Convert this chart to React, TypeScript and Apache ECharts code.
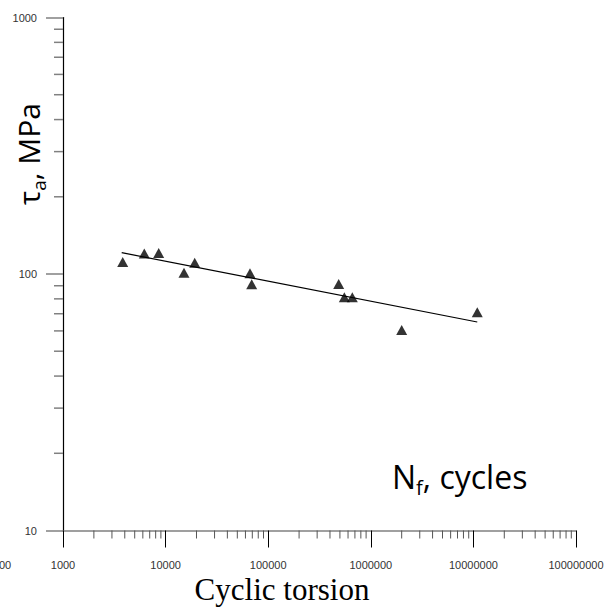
import React, { useEffect, useRef } from "react";
import * as echarts from "echarts";

// Fatigue data: number of cycles to failure vs. shear stress amplitude
const cycles = [3819, 6199, 8565, 15110, 19220, 66450, 69040, 486500, 552000, 660400, 2000000, 10910000];
const stress = [111.4, 120.2, 120.7, 101.2, 110.7, 100.6, 91.2, 91.4, 81.1, 81.1, 60.5, 70.9];

// Fitted S-N line (end points)
const fitCycles = [3733, 10910000];
const fitStress = [121.1, 65.0];

// Axis ranges
const xMin = 1000;
const xMax = 100000000;
const yMin = 10;
const yMax = 1000;

// Minor tick positions (2..9 within every decade)
const xDecades = [1000, 10000, 100000, 1000000, 10000000];
const yDecades = [10, 100];
const minorMult = [2, 3, 4, 5, 6, 7, 8, 9];

const xMinorTicks: number[] = [];
xDecades.forEach((d) => minorMult.forEach((m) => xMinorTicks.push(d * m)));
const yMinorTicks: number[] = [];
yDecades.forEach((d) => minorMult.forEach((m) => yMinorTicks.push(d * m)));

export default function App() {
  const ref = useRef<HTMLDivElement>(null);

  useEffect(() => {
    if (!ref.current) return;
    const chart = echarts.init(ref.current, null, { renderer: "svg" });

    const labelFont = {
      fontFamily: "Liberation Sans",
      fontSize: 11,
      color: "#333",
    };

    const option: any = {
      animation: false,
      backgroundColor: "#fff",
      grid: { left: 63, right: 35, top: 17.5, bottom: 77.5, containLabel: false },
      xAxis: {
        type: "log",
        logBase: 10,
        min: xMin,
        max: xMax,
        splitLine: { show: false },
        axisLine: { show: true, lineStyle: { color: "#808080", width: 1.5 } },
        axisTick: { show: true, inside: false, length: 17, lineStyle: { color: "#000", width: 1 } },
        axisLabel: {
          ...labelFont,
          margin: 29,
          formatter: (v: number) => String(Math.round(v)),
        },
      },
      yAxis: {
        type: "log",
        logBase: 10,
        min: yMin,
        max: yMax,
        splitLine: { show: false },
        axisLine: { show: true, lineStyle: { color: "#000", width: 1.2 } },
        axisTick: { show: true, inside: false, length: 17, lineStyle: { color: "#808080", width: 1.5 } },
        axisLabel: {
          ...labelFont,
          margin: 26,
          formatter: (v: number) => String(Math.round(v)),
        },
      },
      series: [
        {
          type: "custom",
          name: "xMinor",
          clip: false,
          silent: true,
          data: xMinorTicks.map((v) => [v, yMin]),
          renderItem: (params: any, api: any) => {
            const p = api.coord([api.value(0), api.value(1)]);
            return {
              type: "line",
              shape: { x1: p[0], y1: p[1], x2: p[0], y2: p[1] + 8 },
              style: { stroke: "#555", lineWidth: 1 },
            };
          },
        },
        {
          type: "custom",
          name: "yMinor",
          clip: false,
          silent: true,
          data: yMinorTicks.map((v) => [xMin, v]),
          renderItem: (params: any, api: any) => {
            const p = api.coord([api.value(0), api.value(1)]);
            return {
              type: "line",
              shape: { x1: p[0] - 9, y1: p[1], x2: p[0], y2: p[1] },
              style: { stroke: "#808080", lineWidth: 1.5 },
            };
          },
        },
        {
          type: "line",
          name: "fit",
          data: fitCycles.map((c, i) => [c, fitStress[i]]),
          symbol: "none",
          lineStyle: { color: "#000", width: 1.2 },
          silent: true,
        },
        {
          type: "scatter",
          name: "tests",
          data: cycles.map((c, i) => [c, stress[i]]),
          symbol: "triangle",
          symbolSize: [11, 10],
          itemStyle: { color: "#000" },
          silent: true,
        },
      ],
      graphic: [
        {
          type: "text",
          x: 282,
          y: 589,
          style: {
            text: "Cyclic torsion",
            fontFamily: "Liberation Serif",
            fontSize: 31,
            fill: "#000",
            align: "center",
            verticalAlign: "middle",
          },
        },
        {
          type: "text",
          x: 392,
          y: 476,
          style: {
            text: "{n|N}{s|f}{n|, cycles}",
            align: "left",
            verticalAlign: "middle",
            rich: {
              n: { fontFamily: "Open Sans", fontSize: 32, lineHeight: 42, fill: "#000" },
              s: { fontFamily: "Open Sans", fontSize: 20, lineHeight: 26, verticalAlign: "bottom", fill: "#000" },
            },
          },
        },
        {
          type: "text",
          x: 28,
          y: 154,
          rotation: Math.PI / 2,
          style: {
            text: "{n|τ}{s|a}{n|, MPa}",
            align: "center",
            verticalAlign: "middle",
            rich: {
              n: { fontFamily: "Open Sans", fontSize: 30, lineHeight: 40, fill: "#000" },
              s: { fontFamily: "Open Sans", fontSize: 19, lineHeight: 24, verticalAlign: "bottom", fill: "#000" },
            },
          },
        },
        {
          type: "text",
          x: -1,
          y: 565,
          style: {
            text: "00",
            fontFamily: "Liberation Sans",
            fontSize: 11,
            fill: "#333",
            align: "left",
            verticalAlign: "middle",
          },
        },
      ],
    };

    chart.setOption(option);
    return () => chart.dispose();
  }, []);

  return <div ref={ref} style={{ width: 611, height: 608, position: "absolute", left: 0, top: 0 }} />;
}
